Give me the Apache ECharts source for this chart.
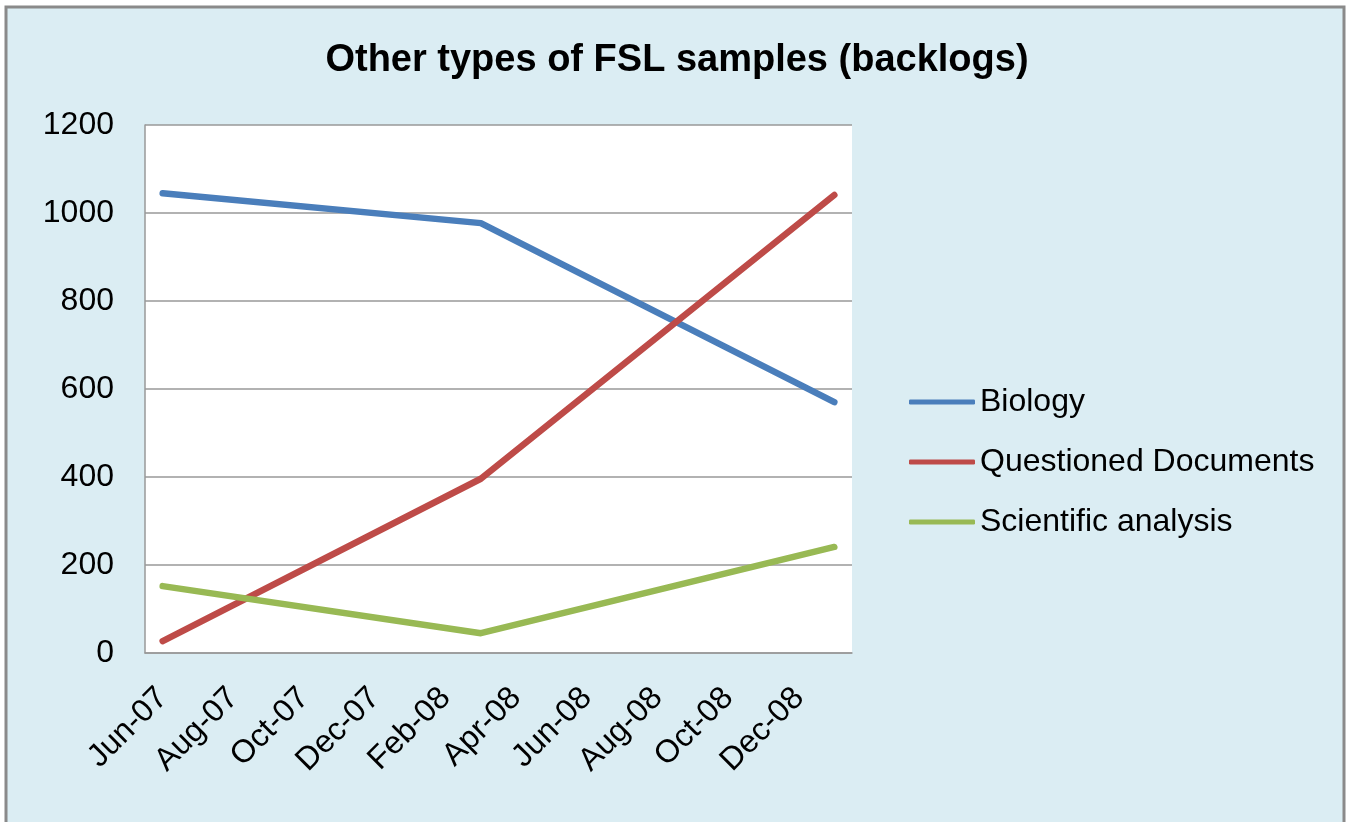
<!DOCTYPE html>
<html>
<head>
<meta charset="utf-8">
<script src="https://cdn.jsdelivr.net/npm/echarts@6/dist/echarts.min.js"></script>
<style>
  html, body { margin: 0; padding: 0; background: #ffffff; }
  #chart { width: 1349px; height: 822px; }
</style>
</head>
<body>
<div id="chart"></div>
<script>
// monthly category axis, Jun-07 .. Jan-09
var months = ["Jun-07", "Jul-07", "Aug-07", "Sep-07", "Oct-07", "Nov-07", "Dec-07", "Jan-08",
  "Feb-08", "Mar-08", "Apr-08", "May-08", "Jun-08", "Jul-08", "Aug-08", "Sep-08",
  "Oct-08", "Nov-08", "Dec-08", "Jan-09"];
// dates where the backlogs were measured
var sampleDates = ["Jun-07", "Mar-08", "Jan-09"];
var biology = [1045, 977, 570];
var questionedDocs = [27, 396, 1041];
var scientific = [152, 45, 241];
var yTicks = { min: 0, max: 1200, interval: 200 };

var font = "Liberation Sans, Arial, sans-serif";

function pairs(vals) {
  return sampleDates.map(function (d, i) { return [d, vals[i]]; });
}

function lineSeries(name, vals, color) {
  return {
    name: name,
    type: "line",
    data: pairs(vals),
    showSymbol: false,
    symbol: "none",
    lineStyle: { color: color, width: 6.5, cap: "round", join: "round" },
    itemStyle: { color: color },
    emphasis: { disabled: true },
    animation: false
  };
}

var myChart = echarts.init(document.getElementById("chart"));

var option = {
  backgroundColor: "#ffffff",
  animation: false,
  graphic: [
    {
      type: "rect",
      z: -10,
      shape: { x: 6, y: 7, width: 1338, height: 840 },
      style: { fill: "#dbedf3", stroke: "#8a8a8a", lineWidth: 3 }
    }
  ],
  title: {
    text: "Other types of FSL samples (backlogs)",
    left: 672,
    top: 37,
    textAlign: "center",
    textStyle: { fontFamily: font, fontSize: 38, fontWeight: "bold", color: "#000000" }
  },
  legend: {
    orient: "vertical",
    left: 904,
    top: 379,
    itemWidth: 66,
    itemHeight: 5,
    itemGap: 24,
    icon: "roundRect",
    data: ["Biology", "Questioned Documents", "Scientific analysis"],
    textStyle: { fontFamily: font, fontSize: 32, color: "#000000", lineHeight: 36 }
  },
  grid: {
    left: 145,
    right: 497,
    top: 125,
    bottom: 169,
    show: true,
    backgroundColor: "#ffffff",
    borderWidth: 0
  },
  xAxis: {
    type: "category",
    data: months,
    boundaryGap: true,
    axisLine: { show: true, lineStyle: { color: "#999999", width: 1.5 } },
    axisTick: { show: false },
    axisLabel: {
      interval: 1,
      rotate: 45,
      margin: 40,
      fontFamily: font,
      fontSize: 32,
      color: "#000000"
    },
    splitLine: { show: false }
  },
  yAxis: {
    type: "value",
    min: yTicks.min,
    max: yTicks.max,
    interval: yTicks.interval,
    axisLine: { show: true, lineStyle: { color: "#999999", width: 1.5 } },
    axisTick: { show: false },
    axisLabel: {
      margin: 31,
      fontFamily: font,
      fontSize: 32,
      color: "#000000",
      formatter: function (v) { return String(v); }
    },
    splitLine: { lineStyle: { color: "#999999", width: 1.5 } }
  },
  series: [
    lineSeries("Biology", biology, "#4a7ebb"),
    lineSeries("Questioned Documents", questionedDocs, "#be4b48"),
    lineSeries("Scientific analysis", scientific, "#98b954")
  ]
};

myChart.setOption(option);
</script>
</body>
</html>
